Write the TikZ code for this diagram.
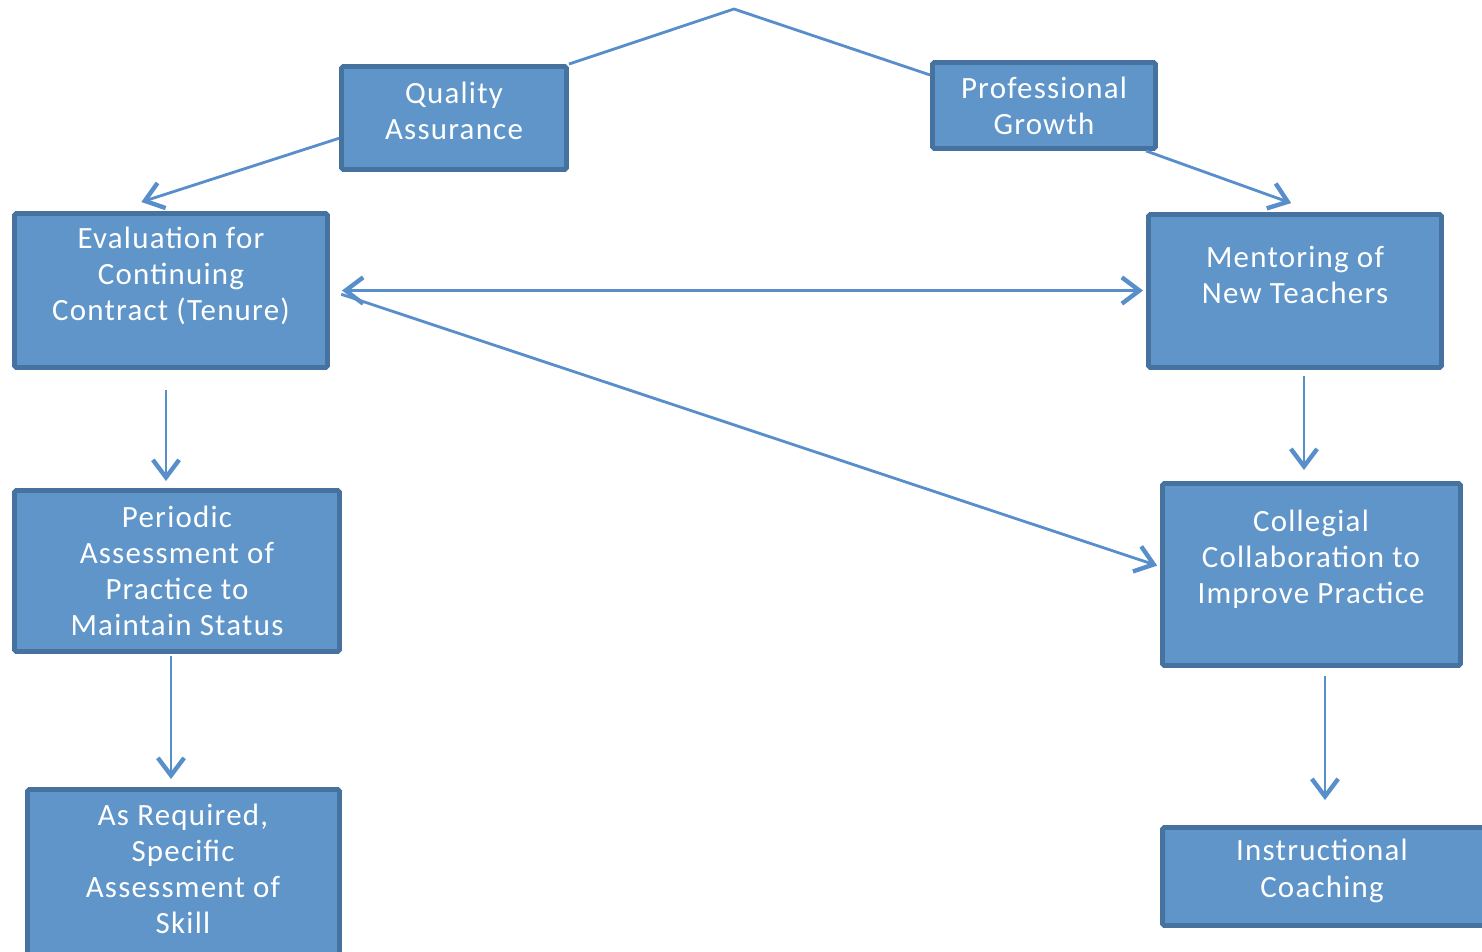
\documentclass[tikz,border=0pt]{standalone}
\usepackage{fontspec}
\setmainfont[LetterSpace=4]{Carlito}
\usetikzlibrary{arrows.meta}

\definecolor{boxfill}{RGB}{95,149,201}
\definecolor{boxline}{RGB}{70,114,160}
\definecolor{linkblue}{RGB}{88,142,202}

\tikzset{
  stage/.style={draw=boxline, fill=boxfill, line width=2.8pt, rounded corners=1pt, inner sep=0pt},
  stagetext/.style={text=white, align=center, font=\fontsize{17.6}{20.6}\selectfont},
  link/.style={draw=linkblue, line width=1.6pt},
  barb/.style={link, >={Straight Barb[length=10pt,width=15pt,line width=2.5pt]}},
}

\begin{document}
\begin{tikzpicture}[x=0.02cm, y=-0.02cm]
  \useasboundingbox (0,0) rectangle (1482,951);
  \clip (0,0) rectangle (1482,951);

  % boxes
  \node[stage, minimum width=4.50cm, minimum height=2.06cm] (qa)    at (454,118)    {};
  \node[stage, minimum width=4.46cm, minimum height=1.72cm] (pg)    at (1044,105.5) {};
  \node[stage, minimum width=6.26cm, minimum height=3.08cm] (eval)  at (171,290.5)  {};
  \node[stage, minimum width=5.86cm, minimum height=3.06cm] (ment)  at (1295,291)   {};
  \node[stage, minimum width=6.50cm, minimum height=3.22cm] (per)   at (177,571)    {};
  \node[stage, minimum width=5.96cm, minimum height=3.64cm] (coll)  at (1311.5,574.5) {};
  \node[stage, minimum width=6.24cm, minimum height=3.50cm] (asreq) at (183.5,877)  {};
  \node[stage, minimum width=6.70cm, minimum height=1.96cm] (instr) at (1330,876.5) {};

  % texts
  \node[stagetext] (qa-t)    at (454,111)  {Quality\\Assurance};
  \node[stagetext] (pg-t)    at (1044,106) {Professional\\Growth};
  \node[stagetext] (eval-t)  at (171,276)  {Evaluation for\\Continuing\\Contract (Tenure)};
  \node[stagetext] (ment-t)  at (1295,275) {Mentoring of\\New Teachers};
  \node[stagetext] (per-t)   at (177,571)  {Periodic\\Assessment of\\Practice to\\Maintain Status};
  \node[stagetext] (coll-t)  at (1311,559) {Collegial\\Collaboration to\\Improve Practice};
  \node[stagetext] (asreq-t) at (183,869)  {As Required,\\Specific\\Assessment of\\Skill};
  \node[stagetext] (instr-t) at (1322,871) {Instructional\\Coaching};

  % links
  \coordinate (apex) at (734,9);
  \draw[link] (qa.north east) -- (apex) -- (pg.165);
  \draw[barb,->,shorten >=0.59cm] (qa.190) -- (eval.126.6);
  \draw[barb,->,shorten >=0.53cm] (pg.-24) -- (ment.75.8);
  \draw[barb,<->,shorten <=0.24cm,shorten >=0.06cm] (eval.east) -- (eval.east -| ment.west);
  \draw[barb,->,shorten <=0.24cm,shorten >=0.06cm] (eval.east) -- (coll.177);
  \draw[barb,->,shorten <=0.40cm,shorten >=0.14cm] (eval.south -| 166,0) -- (per.north -| 166,0);
  \draw[barb,->,shorten <=0.04cm,shorten >=0.16cm] (per.south -| 171,0) -- (asreq.north -| 171,0);
  \draw[barb,->,shorten <=0.12cm,shorten >=0.22cm] (ment.south -| 1304,0) -- (coll.north -| 1304,0);
  \draw[barb,->,shorten <=0.16cm,shorten >=0.50cm] (coll.south -| 1325,0) -- (instr.north -| 1325,0);
\end{tikzpicture}
\end{document}
